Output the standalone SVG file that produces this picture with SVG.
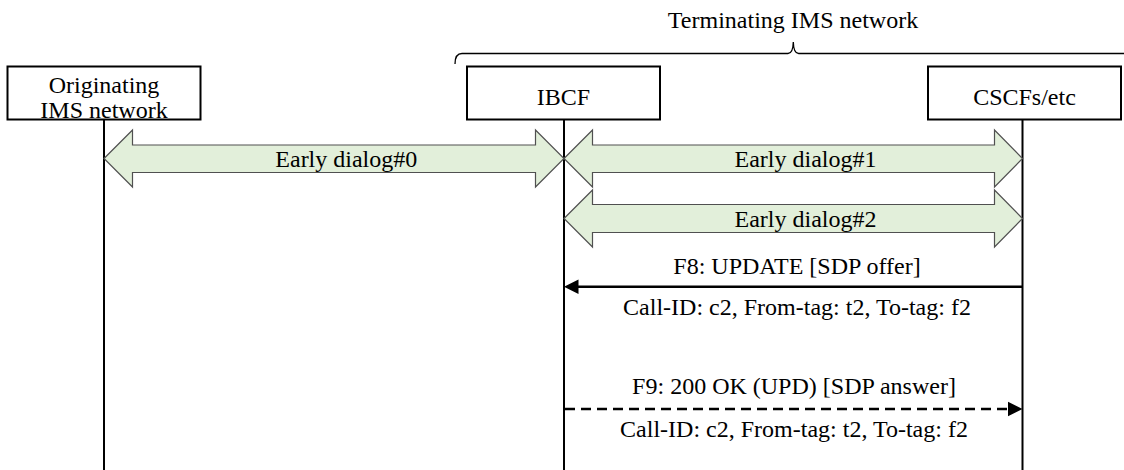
<svg xmlns="http://www.w3.org/2000/svg" width="1124" height="470" viewBox="0 0 1124 470">
<style>
text{font-family:'Liberation Serif','Times New Roman',serif;font-size:24px;fill:#000;text-anchor:middle}
.box{fill:#fff;stroke:#000;stroke-width:2}
.life{stroke:#000;stroke-width:2;fill:none}
.dlg{fill:#E2EFDA;stroke:#505050;stroke-width:1.2}
.msg{stroke:#000;stroke-width:2.5;fill:none}
</style>
<rect width="1124" height="470" fill="#fff"/>
<g id="bracket">
<path d="M455,64 Q455,53.5 462,53.5 L788,53.5 Q793,53.5 793.3,42 Q793.6,53.5 798.6,53.5 L1124,53.5" fill="none" stroke="#000" stroke-width="1.3"/>
<text x="793" y="28">Terminating IMS network</text>
</g>
<g id="orig">
<rect class="box" x="7.5" y="66.5" width="193" height="53"/>
<text x="104" y="93">Originating</text>
<text x="104" y="118">IMS network</text>
</g>
<g id="ibcf">
<rect class="box" x="467" y="66.5" width="193" height="53"/>
<text x="563.5" y="105">IBCF</text>
</g>
<g id="cscf">
<rect class="box" x="928" y="66.5" width="193" height="53"/>
<text x="1024.5" y="105">CSCFs/etc</text>
</g>
<g id="connectors">
<line class="life" x1="104" y1="120" x2="104" y2="470"/>
<line class="life" x1="564" y1="120" x2="564" y2="470"/>
<line class="life" x1="1022.5" y1="120" x2="1022.5" y2="470"/>
<g id="dialog0">
<path class="dlg" d="M104,158.5 L132.5,130 L132.5,145 L535.5,145 L535.5,130 L564,158.5 L535.5,187 L535.5,172.5 L132.5,172.5 L132.5,187 Z"/>
<text x="346.3" y="166.7">Early dialog#0</text>
</g>
<g id="dialog1">
<path class="dlg" d="M564,158.5 L592.5,130 L592.5,145 L994.5,145 L994.5,130 L1022.5,158.5 L994.5,187 L994.5,172.5 L592.5,172.5 L592.5,187 Z"/>
<text x="805.5" y="166.7">Early dialog#1</text>
</g>
<g id="dialog2">
<path class="dlg" d="M564,218.5 L592.5,190 L592.5,204.5 L994.5,204.5 L994.5,190 L1022.5,218.5 L994.5,247 L994.5,232.5 L592.5,232.5 L592.5,247 Z"/>
<text x="805.5" y="227.3">Early dialog#2</text>
</g>
<g id="f8">
<line class="msg" x1="1022.5" y1="286.7" x2="577" y2="286.7"/>
<polygon points="564,286.7 578.5,279.5 578.5,294" fill="#000"/>
<text x="797" y="273.5">F8: UPDATE [SDP offer]</text>
<text x="797" y="315">Call-ID: c2, From-tag: t2, To-tag: f2</text>
</g>
<g id="f9">
<line class="msg" x1="565" y1="409" x2="1009" y2="409" stroke-dasharray="10 6"/>
<polygon points="1022.5,409 1008,401.8 1008,416.2" fill="#000"/>
<text x="794" y="393.5">F9: 200 OK (UPD) [SDP answer]</text>
<text x="794" y="437">Call-ID: c2, From-tag: t2, To-tag: f2</text>
</g>
</g>
</svg>
